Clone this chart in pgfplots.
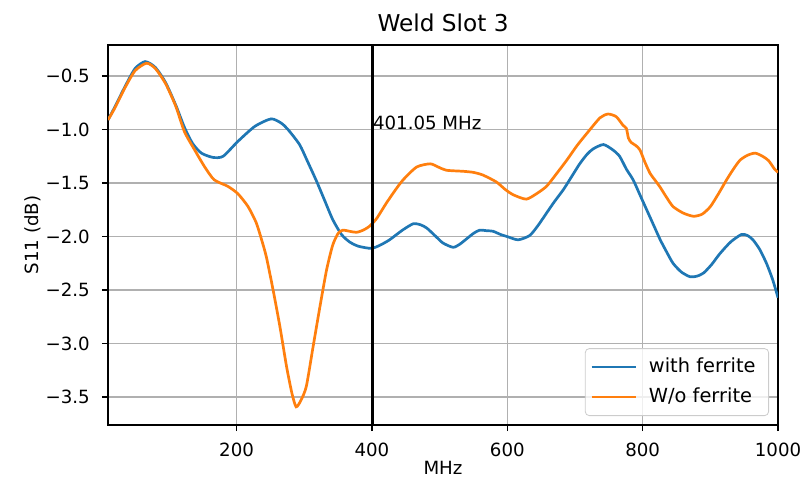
\documentclass[border=0pt]{standalone}
\usepackage{pgfplots}
\pgfplotsset{compat=1.18}
\usepackage{fontspec}
\setmainfont{DejaVu Sans}

\definecolor{mplblue}{HTML}{1F77B4}
\definecolor{mplorange}{HTML}{FF7F0E}
\definecolor{gridgray}{HTML}{B0B0B0}

% S11 of weld slot 3, measured with and without the ferrite
\pgfplotstableread{
f s11
10 -0.91
20 -0.79
35 -0.60
50 -0.43
65 -0.365
80 -0.42
95 -0.56
110 -0.77
123 -0.98
135 -1.13
148 -1.22
165 -1.26
180 -1.25
202 -1.11
227 -0.97
251 -0.90
266 -0.94
276 -1.00
293 -1.14
305 -1.30
318 -1.48
330 -1.66
342 -1.84
355 -1.98
367 -2.05
380 -2.09
399 -2.11
412 -2.08
426 -2.03
445 -1.94
461 -1.88
472 -1.89
481 -1.92
493 -1.99
505 -2.06
520 -2.10
530 -2.07
540 -2.02
550 -1.97
559 -1.94
570 -1.945
579 -1.95
590 -1.98
600 -2.00
616 -2.03
633 -1.99
645 -1.90
658 -1.78
670 -1.67
683 -1.56
695 -1.44
707 -1.32
718 -1.23
727 -1.18
742 -1.14
756 -1.19
766 -1.25
776 -1.37
786 -1.47
796 -1.61
806 -1.75
816 -1.89
826 -2.03
836 -2.15
845 -2.25
857 -2.33
870 -2.375
880 -2.37
890 -2.34
902 -2.26
914 -2.16
930 -2.05
946 -1.98
955 -1.99
963 -2.03
973 -2.12
983 -2.25
992 -2.40
1000 -2.57
}\withferrite

\pgfplotstableread{
f s11
10 -0.91
20 -0.80
35 -0.61
50 -0.45
67 -0.38
80 -0.43
95 -0.57
110 -0.78
123 -1.02
138 -1.19
153 -1.35
167 -1.47
187 -1.53
202 -1.60
217 -1.72
229 -1.87
237 -2.03
244 -2.19
254 -2.50
264 -2.84
274 -3.22
282 -3.47
288 -3.59
295 -3.53
303 -3.40
313 -3.03
323 -2.66
333 -2.31
342 -2.08
350 -1.97
357 -1.94
367 -1.95
377 -1.96
387 -1.94
397 -1.90
407 -1.83
421 -1.69
434 -1.57
446 -1.47
466 -1.35
486 -1.32
498 -1.35
510 -1.38
535 -1.39
550 -1.40
564 -1.425
584 -1.49
597 -1.56
609 -1.61
628 -1.65
643 -1.60
658 -1.53
673 -1.41
688 -1.285
703 -1.15
717 -1.04
737 -0.89
749 -0.855
761 -0.88
771 -0.96
776 -0.99
779 -1.08
783 -1.12
790 -1.15
796 -1.19
803 -1.30
811 -1.41
818 -1.47
826 -1.54
835 -1.63
845 -1.72
860 -1.78
875 -1.81
888 -1.79
900 -1.72
912 -1.60
924 -1.47
934 -1.37
944 -1.285
955 -1.24
966 -1.22
976 -1.245
986 -1.29
995 -1.37
1000 -1.40
}\withoutferrite

\begin{document}
\begin{tikzpicture}
\begin{axis}[
  name=ax,
  scale only axis,
  width=335pt, height=190pt,
  xmin=10, xmax=1000,
  ymin=-3.76, ymax=-0.21,
  xtick={200,400,600,800,1000},
  ytick={-3.5,-3,-2.5,-2,-1.5,-1,-0.5},
  yticklabels={−3.5,−3.0,−2.5,−2.0,−1.5,−1.0,−0.5},
  /pgf/number format/assume math mode=true,
  /pgf/number format/1000 sep={},
  tick align=outside,
  tick pos=left,
  major tick length=3.1pt,
  every tick/.style={black, line width=0.72pt},
  axis line style={black, line width=0.72pt},
  grid=major,
  major grid style={gridgray, line width=0.72pt},
  ticklabel style={font=\fontsize{9.1}{10}\selectfont, text=black},
  xticklabel style={yshift=-2.5pt},
  yticklabel style={xshift=-2.5pt},
  title={Weld Slot 3},
  every axis title/.style={font=\fontsize{11.6}{13}\selectfont, at={(axis description cs:0.5,1.0368)}, anchor=base},
  xlabel={MHz},
  xlabel style={font=\fontsize{9.1}{10}\selectfont, at={(axis description cs:0.5,-0.1305)}, anchor=base},
  ylabel={S11 (dB)},
  ylabel style={font=\fontsize{9.1}{10}\selectfont, at={(axis description cs:-0.1036,0.5)}, anchor=base},
  legend cell align=left,
  legend image code/.code={\draw[#1] (0pt,0pt) -- (22pt,0pt);},
  legend style={
    at={(1,0)}, anchor=south east, xshift=-4.5pt, yshift=4.5pt,
    draw=black!20, rounded corners=2pt,
    fill=white, fill opacity=0.8, text opacity=1,
    font=\fontsize{9.7}{11}\selectfont,
    inner xsep=2.5pt, inner ysep=4.6pt,
    nodes={inner sep=0pt, text height=7.3pt, text depth=2pt},
    row sep=5.7pt,
    /tikz/every odd column/.append style={column sep=6pt},
  },
]
\addplot[mplblue, line width=1.35pt, smooth, tension=0.4] table[x=f, y=s11] {\withferrite};
\addlegendentry{with ferrite\hspace*{4pt}}
\addplot[mplorange, line width=1.35pt, smooth, tension=0.4] table[x=f, y=s11] {\withoutferrite};
\addlegendentry{W/o ferrite\hspace*{4pt}}
% marker at the 401.05 MHz operating frequency
\addplot[black, line width=1.35pt, forget plot] coordinates {(401.05,-3.76) (401.05,-0.21)};
\node[anchor=base west, inner sep=0pt, font=\fontsize{9.1}{10}\selectfont] at (axis cs:401.05,-1.0) {401.05 MHz};
\end{axis}
\pgfresetboundingbox
\path[use as bounding box] ([shift={(-54pt,-29.5pt)}]ax.south west) rectangle ([shift={(13.5pt,22.5pt)}]ax.north east);
\end{tikzpicture}
\end{document}
